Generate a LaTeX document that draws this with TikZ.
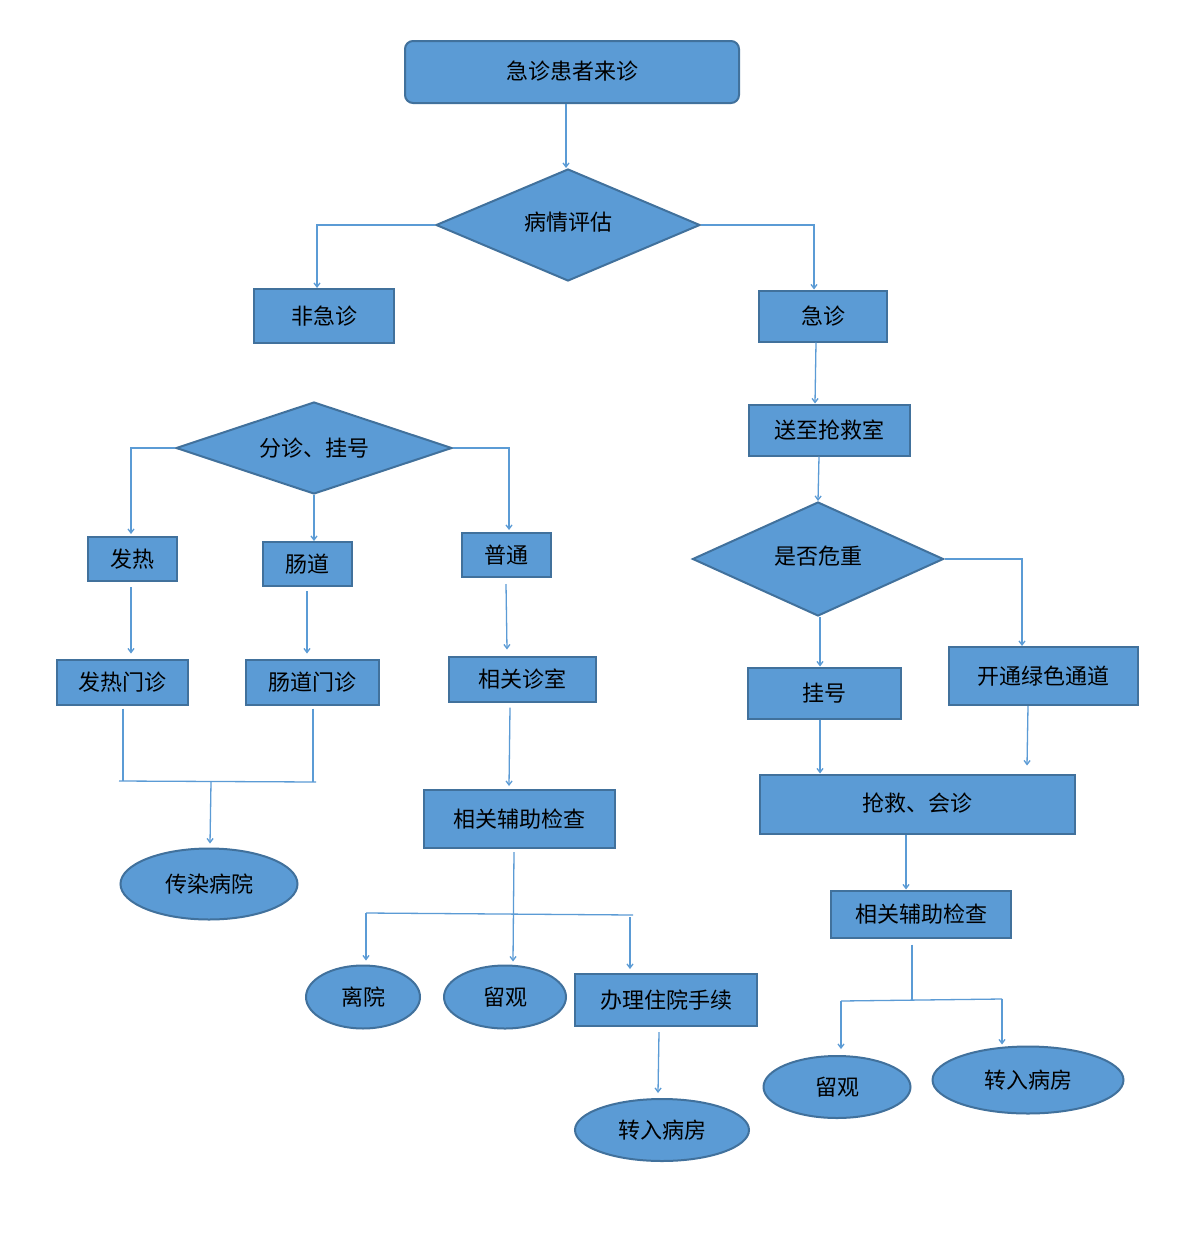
\documentclass[tikz,border=0pt]{standalone}
\usepackage{fontspec}
\setmainfont{Noto Sans CJK SC}
\usetikzlibrary{shapes.geometric,arrows.meta,calc}
\definecolor{boxfill}{HTML}{5B9BD5}
\definecolor{boxline}{HTML}{41719C}
\definecolor{connc}{HTML}{5B9BD5}
\begin{document}
\begin{tikzpicture}[x=1pt,y=-1pt,
 base/.style={fill=boxfill,draw=boxline,line width=2pt,font=\fontsize{22}{25}\selectfont,text=black,inner sep=0pt},
 rbox/.style={base,rectangle},
 dia/.style={base,diamond},
 ell/.style={base,ellipse},
 conn/.style={draw=connc,line width=1.3pt,-{Straight Barb[length=4pt,width=6pt]}},
 plain/.style={draw=connc,line width=1.3pt}]
\useasboundingbox[fill=white] (0,0) rectangle (1200,1237);

% right branch
\node[rbox,rounded corners=8pt,minimum width=334,minimum height=62] (top) at (572,72) {\raisebox{4pt}{急诊患者来诊}};
\node[dia,aspect=2.36,minimum width=264,minimum height=112] (pq) at (568,225) {\raisebox{8pt}{病情评估}};
\node[rbox,minimum width=140,minimum height=54] (fjz) at (324,316) {非急诊};
\node[rbox,minimum width=128,minimum height=51] (jz) at (823,316) {急诊};
\node[rbox,minimum width=161,minimum height=51] (sz) at (829,430) {送至抢救室};
\node[dia,aspect=2.2,minimum width=251,minimum height=114] (sf) at (818,559) {\raisebox{8pt}{是否危重}};
\node[rbox,minimum width=153,minimum height=51] (gh) at (824,693) {挂号};
\node[rbox,minimum width=189,minimum height=58] (kt) at (1043,676) {开通绿色通道};
\node[rbox,minimum width=315,minimum height=59] (qj) at (917,804) {\raisebox{3pt}{抢救、会诊}};
\node[rbox,minimum width=180,minimum height=47] (fz2) at (921,914) {相关辅助检查};
\node[ell,minimum width=147,minimum height=62] (lg2) at (837,1087) {留观};
\node[ell,minimum width=191,minimum height=67] (zr2) at (1028,1080) {转入病房};

% left branch
\node[dia,aspect=3,minimum width=276,minimum height=92,inner sep=0pt] (fz) at (314,448) {分诊、挂号};
\node[rbox,minimum width=89,minimum height=44] (fr) at (132,559) {发热};
\node[rbox,minimum width=89,minimum height=44] (cd) at (307,564) {肠道};
\node[rbox,minimum width=89,minimum height=44] (pt) at (506,555) {普通};
\node[rbox,minimum width=131,minimum height=45] (frmz) at (122,682) {发热门诊};
\node[rbox,minimum width=133,minimum height=45] (cdmz) at (312,682) {肠道门诊};
\node[rbox,minimum width=147,minimum height=45] (xgzs) at (522,679) {相关诊室};
\node[rbox,minimum width=191,minimum height=58] (fzjc) at (519,819) {相关辅助检查};
\node[ell,minimum width=177,minimum height=71] (crb) at (209,884) {传染病院};
\node[ell,minimum width=114,minimum height=63] (ly) at (363,997) {离院};
\node[ell,minimum width=122,minimum height=63] (lg) at (505,997) {留观};
\node[rbox,minimum width=182,minimum height=52] (zy) at (666,1000) {办理住院手续};
\node[ell,minimum width=174,minimum height=62] (zr) at (662,1130) {转入病房};

% junction coordinates
\coordinate (bl) at (841,1001);
\coordinate (brr) at (1002,999);
\coordinate (bm) at (912,1000);
\coordinate (j1) at (123,781);
\coordinate (j2) at (313,782);
\coordinate (jl) at (119,781);
\coordinate (jr) at (316,782);
\coordinate (jm) at (211,782);
\coordinate (h1) at (366,913);
\coordinate (h2) at (633,915);
\coordinate (h3) at (630,917);

% connectors right
\draw[conn] ($(top.south)+(-6,0)$) -- ($(pq.north)+(-2,0)$);
\draw[conn] (pq.west) -| ($(fjz.north)+(-7,0)$);
\draw[conn] (pq.east) -| ($(jz.north)+(-9,0)$);
\draw[conn] ($(jz.south)+(-7,0)$) -- ($(sz.north)+(-14,0)$);
\draw[conn] ($(sz.south)+(-10,0)$) -- (sf.north);
\draw[conn] ($(sf.south)+(2,0)$) -- ($(gh.north)+(-4,0)$);
\draw[conn] (sf.east) -| ($(kt.north)+(-21,0)$);
\draw[conn] ($(gh.south)+(-4,0)$) -- ($(qj.north)+(-97,0)$);
\draw[conn] ($(kt.south)+(-15,0)$) -- ($(qj.north)+(110,-8)$);
\draw[conn] ($(qj.south)+(-11,0)$) -- ($(fz2.north)+(-15,0)$);
\draw[plain] ($(fz2.south)+(-9,6)$) -- (bm);
\draw[plain] (bl) -- (brr);
\draw[conn] (bl) -- ($(bl |- lg2.north)+(0,-6)$);
\draw[conn] (brr) -- ($(brr |- zr2.north)+(0,-1)$);

% connectors left
\draw[conn] (fz.west) -| ($(fr.north)+(-1,-2)$);
\draw[conn] (fz.south) -- ($(cd.north)+(7,0)$);
\draw[conn] (fz.east) -| ($(pt.north)+(3,-2)$);
\draw[conn] ($(fr.south)+(-1,5)$) -- ($(fr.south |- frmz.north)+(-1,-5)$);
\draw[conn] ($(cd.south)+(0,4)$) -- ($(cd.south |- cdmz.north)+(0,-5)$);
\draw[conn] ($(pt.south)+(0,6)$) -- ($(pt.south |- xgzs.north)+(1,-6)$);
\draw[plain] ($(frmz.south)+(1,3)$) -- (j1);
\draw[plain] ($(cdmz.south)+(1,3)$) -- (j2);
\draw[plain] (jl) -- (jr);
\draw[conn] (jm) -- ($(crb.north)+(1,-4)$);
\draw[conn] ($(xgzs.south)+(-12,5)$) -- ($(fzjc.north)+(-10,-3)$);
\draw[conn] ($(fzjc.south)+(-5,3)$) -- ($(lg.north)+(8,-3)$);
\draw[plain] (h1) -- (h2);
\draw[conn] (h1) -- ($(h1 |- ly.north)+(0,-4)$);
\draw[conn] (h3) -- ($(h3 |- zy.north)+(0,-4)$);
\draw[conn] ($(zy.south)+(-7,5)$) -- ($(zr.north)+(-4,-5)$);
\end{tikzpicture}
\end{document}
